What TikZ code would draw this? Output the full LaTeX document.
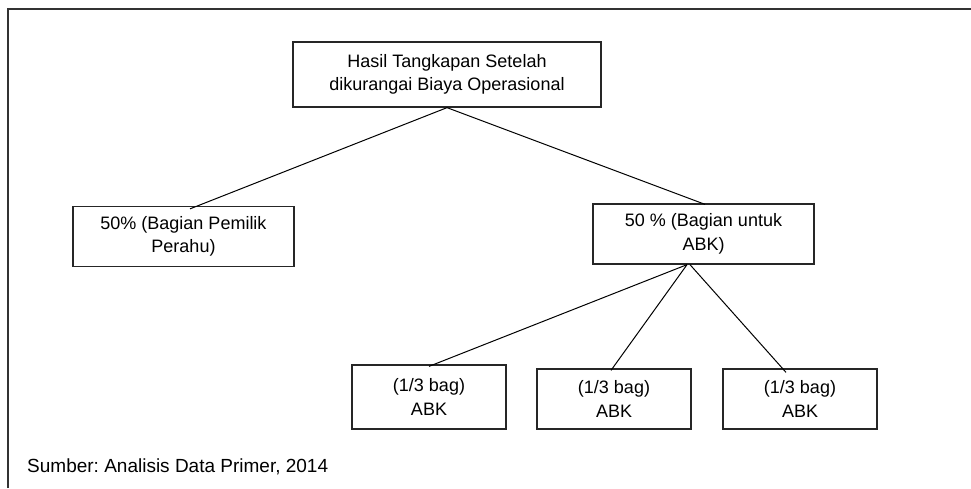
\documentclass[tikz,border=0pt]{standalone}
\usepackage{fontspec}
\setmainfont{Liberation Sans}
\frenchspacing
\begin{document}
\begin{tikzpicture}[x=1pt,y=-1pt,
  box/.style={draw=black!85, line width=1.3pt, align=center, inner sep=0pt,
    font=\fontsize{18}{23.5}\selectfont},
  conn/.style={draw=black, line width=1pt},
  frame/.style={draw=black!80, line width=2pt}]
\useasboundingbox (0,0) rectangle (971,488);
\draw[frame] (8,488) -- (8,9) -- (971,9);
\node[box, minimum width=308pt, minimum height=65pt] (top) at (447,74.5) {Hasil Tangkapan Setelah\\dikurangai Biaya Operasional};
\node[box, minimum width=221pt, minimum height=60pt] (lb) at (183.5,236.5) {50\% (Bagian Pemilik\\Perahu)};
\node[box, minimum width=221pt, minimum height=60pt] (rb) at (703.5,234) {50 \% (Bagian untuk\\ABK)};
\node[box, minimum width=154pt, minimum height=64pt] (b1) at (429,397) {(1/3 bag)\\ABK};
\node[box, minimum width=154pt, minimum height=60pt] (b2) at (614,399) {(1/3 bag)\\ABK};
\node[box, minimum width=154pt, minimum height=60pt] (b3) at (800,399) {(1/3 bag)\\ABK};
\draw[conn] (top.south) -- ([xshift=6.5pt,yshift=-3pt]lb.north);
\draw[conn] (top.south) -- ([xshift=1.5pt,yshift=-1pt]rb.north);
\draw[conn] ([xshift=-16.5pt]rb.south) -- ([yshift=-2pt]b1.north);
\draw[conn] ([xshift=-16.5pt]rb.south) -- ([xshift=-3pt,yshift=-2pt]b2.north);
\draw[conn] ([xshift=-13.5pt]rb.south) -- ([xshift=-14pt,yshift=-4pt]b3.north);
\node[anchor=base west, inner sep=0pt, font=\fontsize{19}{23}\selectfont] (src) at (27,472) {Sumber: Analisis Data Primer, 2014};
\end{tikzpicture}
\end{document}
